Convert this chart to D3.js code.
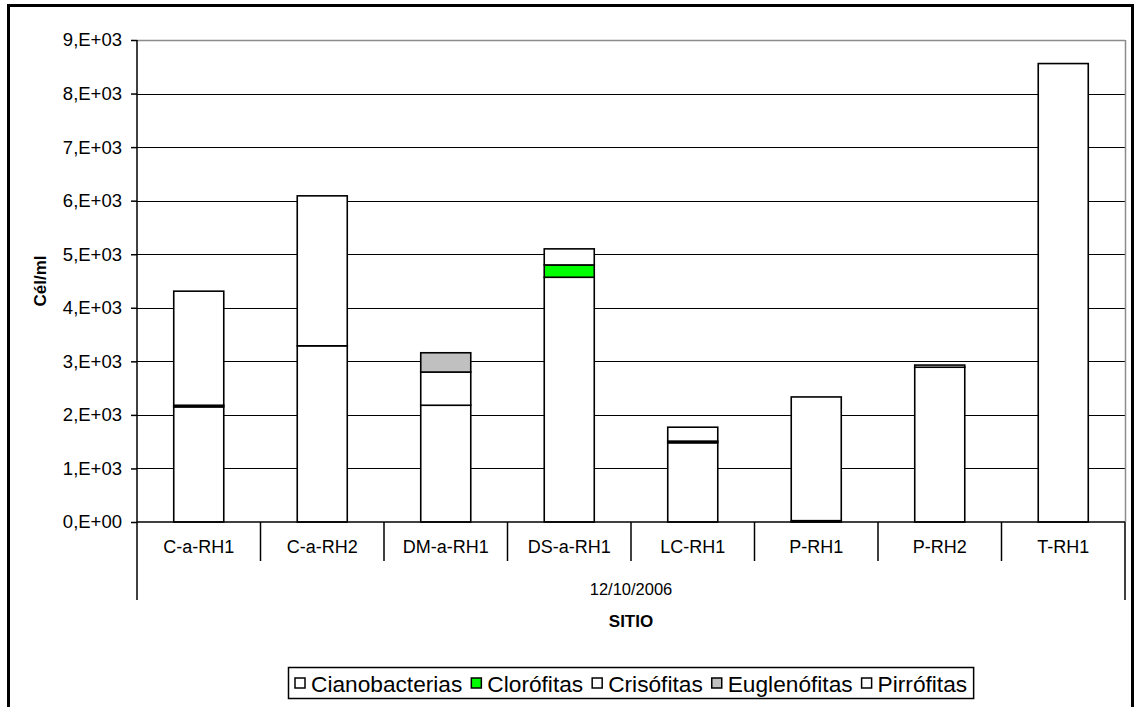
<!DOCTYPE html>
<html><head><meta charset="utf-8">
<script src="https://cdn.jsdelivr.net/npm/d3@7"></script>
<style>body{margin:0;background:#fff}svg{display:block;font-family:"Liberation Sans",Arial,sans-serif}</style>
</head><body><svg id="c" width="1140" height="707"></svg>
<script>
const categories = ["C-a-RH1","C-a-RH2","DM-a-RH1","DS-a-RH1","LC-RH1","P-RH1","P-RH2","T-RH1"];
const seriesNames = ["Cianobacterias","Clorófitas","Crisófitas","Euglenófitas","Pirrófitas"];
const seriesColors = ["#ffffff","#00ff00","#ffffff","#c0c0c0","#ffffff"];
const cianobacterias = [2150, 3290, 2180, 4570, 1480, 25, 2890, 8560];
const clorofitas     = [30, 0, 0, 230, 30, 0, 0, 0];
const crisofitas     = [2130, 2800, 620, 300, 260, 2310, 40, 0];
const euglenofitas   = [0, 0, 360, 0, 0, 0, 0, 0];
const pirrofitas     = [0, 0, 0, 0, 0, 0, 0, 0];
const yTicks = [0,1000,2000,3000,4000,5000,6000,7000,8000,9000];
const yTickLabels = ["0,E+00","1,E+03","2,E+03","3,E+03","4,E+03","5,E+03","6,E+03","7,E+03","8,E+03","9,E+03"];
const dateLabel = "12/10/2006";
const xTitle = "SITIO";
const yTitle = "Cél/ml";

const FONT = "'Liberation Sans', Arial, sans-serif";
const seriesValues = [cianobacterias, clorofitas, crisofitas, euglenofitas, pirrofitas];
const rows = categories.map((c,i)=>{const r={cat:c}; seriesNames.forEach((s,k)=>r[s]=seriesValues[k][i]); return r;});

const svg = d3.select("#c");
const L=137, R=1125, T=40, B=522;
const x = d3.scaleBand().domain(categories).range([L,R]).paddingInner(0).paddingOuter(0);
const y = d3.scaleLinear().domain([0,9000]).range([B,T]);

// outer frame
svg.append("rect").attr("x",8.5).attr("y",5.5).attr("width",1124).attr("height",720)
  .attr("fill","none").attr("stroke","#000").attr("stroke-width",3);

// gridlines
svg.append("g").selectAll("line").data(yTicks.filter(t=>t>0 && t<9000)).join("line")
  .attr("x1",L).attr("x2",R).attr("y1",d=>Math.round(y(d))+0.5).attr("y2",d=>Math.round(y(d))+0.5)
  .attr("stroke","#000").attr("stroke-width",1);
// plot area border top/right gray
svg.append("line").attr("x1",L).attr("x2",R).attr("y1",y(9000)+0.5).attr("y2",y(9000)+0.5).attr("stroke","#8c8c8c").attr("stroke-width",1.5);
svg.append("line").attr("x1",R+0.5).attr("x2",R+0.5).attr("y1",T).attr("y2",B).attr("stroke","#8c8c8c").attr("stroke-width",1.5);

// bars
const stack = d3.stack().keys(seriesNames)(rows);
const bw = x.bandwidth()*0.405;
stack.forEach((layer,k)=>{
  svg.append("g").selectAll("rect").data(layer.filter(d=>d[1]-d[0]>0)).join("rect")
    .attr("x",d=>x(d.data.cat)+(x.bandwidth()-bw)/2)
    .attr("width",bw)
    .attr("y",d=>y(d[1]))
    .attr("height",d=>y(d[0])-y(d[1]))
    .attr("fill",seriesColors[k]).attr("stroke","#000").attr("stroke-width",1.6);
});

// y axis
const yAxis = d3.axisLeft(y).tickValues(yTicks).tickFormat((d,i)=>yTickLabels[i]).tickSize(6).tickPadding(9);
const gy = svg.append("g").attr("transform",`translate(${L},0)`).call(yAxis);
gy.select(".domain").attr("stroke","#000").attr("stroke-width",1.5).attr("d",`M0,${T}V${B}`);
gy.selectAll(".tick line").attr("stroke","#000").attr("stroke-width",1.5);
gy.selectAll(".tick text").attr("font-size",18.5).attr("font-family",FONT).attr("fill","#000");

// x axis
svg.append("line").attr("x1",L).attr("x2",R).attr("y1",B).attr("y2",B).attr("stroke","#000").attr("stroke-width",1.5);
const bounds = categories.map(c=>x(c)).concat([R]);
svg.append("g").selectAll("line").data(bounds).join("line")
  .attr("x1",d=>d).attr("x2",d=>d).attr("y1",B)
  .attr("y2",(d,i)=> (i===0||i===bounds.length-1)?600:561)
  .attr("stroke","#000").attr("stroke-width",1.5);
svg.append("g").selectAll("text").data(categories).join("text")
  .attr("x",d=>x(d)+x.bandwidth()/2).attr("y",553).attr("text-anchor","middle")
  .attr("font-size",18).text(d=>d);
svg.append("text").attr("x",(L+R)/2).attr("y",595).attr("text-anchor","middle").attr("font-size",16.5).text(dateLabel);
svg.append("text").attr("x",(L+R)/2).attr("y",627).attr("text-anchor","middle").attr("font-size",17).attr("font-weight","bold").text(xTitle);
svg.append("text").attr("transform",`translate(46,${(T+B)/2}) rotate(-90)`).attr("text-anchor","middle")
  .attr("font-size",17).attr("font-weight","bold").text(yTitle);

// legend
const lg = svg.append("g");
const lbox = lg.append("rect").attr("y",667.5).attr("height",31).attr("fill","#fff").attr("stroke","#000").attr("stroke-width",1.5);
let cx = 295;
seriesNames.forEach((s,k)=>{
  lg.append("rect").attr("x",cx).attr("y",678).attr("width",10).attr("height",10)
    .attr("fill",seriesColors[k]).attr("stroke","#000").attr("stroke-width",1.5);
  const t = lg.append("text").attr("x",cx+16).attr("y",692).attr("font-size",22.7).text(s);
  cx += 16 + t.node().getComputedTextLength() + 9;
});
lbox.attr("x",288.5).attr("width",cx-288-3);
</script></body></html>
